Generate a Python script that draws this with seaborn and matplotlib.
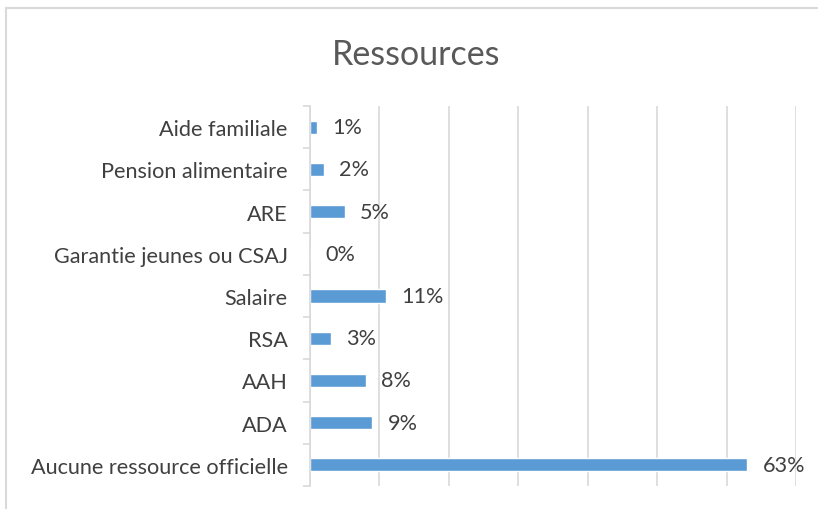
import pandas as pd
import seaborn as sns
import matplotlib.pyplot as plt
from matplotlib.patches import Rectangle
from matplotlib.ticker import FixedLocator

# données
categories = ["Aide familiale", "Pension alimentaire", "ARE", "Garantie jeunes ou CSAJ",
              "Salaire", "RSA", "AAH", "ADA", "Aucune ressource officielle"]
valeurs = [1, 2, 5, 0, 11, 3, 8, 9, 63]

df = pd.DataFrame({"Ressource": categories, "Pct": valeurs})

sns.set_theme(style="white")
plt.rcParams['font.family'] = ['Lato', 'DejaVu Sans']
texte = '#404040'
grille = '#D9D9D9'

fig = plt.figure(figsize=(8.18, 5.10), dpi=100)
W, H = 818, 510
ax = fig.add_axes([310 / W, (H - 487) / H, (796 - 310) / W, (487 - 107) / H])

sns.barplot(data=df, x="Pct", y="Ressource", orient="h", color="#5B9BD5",
            width=0.31, saturation=1, ax=ax)

ax.set_xlim(0, 70)
ax.set_xticks(range(0, 71, 10))
ax.set_xticklabels([])
ax.tick_params(axis='x', length=0)
ax.grid(axis='x', color=grille, linewidth=1.2)
ax.set_axisbelow(True)
for s in ["top", "right", "bottom"]:
    ax.spines[s].set_visible(False)
ax.spines["left"].set_color(grille)
ax.spines["left"].set_linewidth(1.2)

ax.tick_params(axis='y', which='major', length=0, pad=16, labelsize=15.6, labelcolor=texte)
ax.yaxis.set_minor_locator(FixedLocator([i - 0.5 for i in range(len(categories) + 1)]))
ax.tick_params(axis='y', which='minor', length=5, width=1.2, color=grille, left=True)
ax.set_xlabel("")
ax.set_ylabel("")

ax.bar_label(ax.containers[0], labels=[f"{v}%" for v in valeurs], padding=11,
             fontsize=15.6, color=texte)

fig.text(416 / W, 1 - 55 / H, "Ressources", ha='center', va='center', fontsize=24.5, color='#595959')

# cadre du graphique
fig.patches.append(Rectangle((6 / W, -0.1), 2, 1.1 - 9 / H, transform=fig.transFigure,
                             fill=False, edgecolor=grille, linewidth=1.5))

fig.savefig("out.png", dpi=100)
